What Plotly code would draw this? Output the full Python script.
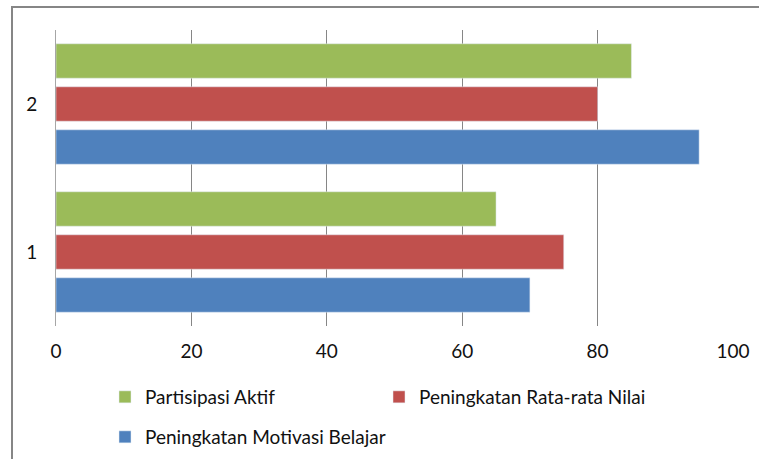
import plotly.graph_objects as go

categories = ["1", "2"]
partisipasi_aktif = [65, 85]
rata_rata_nilai = [75, 80]
motivasi_belajar = [70, 95]
x_ticks = [0, 20, 40, 60, 80, 100]

FONT = "Lato"
FS = 19
fig = go.Figure()
fig.add_trace(go.Bar(y=categories, x=motivasi_belajar, orientation="h",
                     name="Peningkatan Motivasi Belajar",
                     marker=dict(color="#4F81BD"), legend="legend2"))
fig.add_trace(go.Bar(y=categories, x=rata_rata_nilai, orientation="h",
                     name="Peningkatan Rata-rata Nilai",
                     marker=dict(color="#C0504D"), legend="legend"))
fig.add_trace(go.Bar(y=categories, x=partisipasi_aktif, orientation="h",
                     name="Partisipasi Aktif",
                     marker=dict(color="#9BBB59"), legend="legend"))

L, R, T, B = 56, 26, 30, 133
W, H = 759, 459
pw, ph = W - L - R, H - T - B

def px_x(x):
    return (x - L) / pw

def px_y(y):
    return 1 - (y - T) / ph

fig.update_layout(
    width=W, height=H,
    margin=dict(l=L, r=R, t=T, b=B, autoexpand=False),
    paper_bgcolor="white", plot_bgcolor="white",
    font=dict(family=FONT, size=FS, color="#111111"),
    barmode="group", bargap=0.128, bargroupgap=0.2,
    xaxis=dict(range=[0, 100], tickvals=x_ticks, showgrid=True,
               gridcolor="#868686", gridwidth=1, zeroline=False,
               showline=False, ticks="", ticklabelstandoff=12,
               tickfont=dict(size=FS, family=FONT),
               automargin=False),
    yaxis=dict(type="category", categoryorder="array", categoryarray=categories,
               showgrid=False, zeroline=False, showline=True,
               linecolor="#A6A6A6", linewidth=1, ticks="",
               ticklabelstandoff=14, tickfont=dict(size=FS, family=FONT),
               automargin=False),
    legend=dict(orientation="h", x=px_x(105), y=px_y(378), xanchor="left",
                yanchor="top", entrywidth=229, entrywidthmode="pixels",
                traceorder="reversed", font=dict(size=FS, family=FONT),
                itemclick=False),
    legend2=dict(orientation="h", x=px_x(105), y=px_y(418), xanchor="left",
                 yanchor="top", font=dict(size=FS, family=FONT)),
    showlegend=True,
    shapes=[dict(type="rect", xref="paper", yref="paper",
                 x0=px_x(12), x1=px_x(900), y0=px_y(600), y1=px_y(7),
                 line=dict(color="#868686", width=2), fillcolor="rgba(0,0,0,0)",
                 layer="below")],
)

fig.write_html("out.html")
